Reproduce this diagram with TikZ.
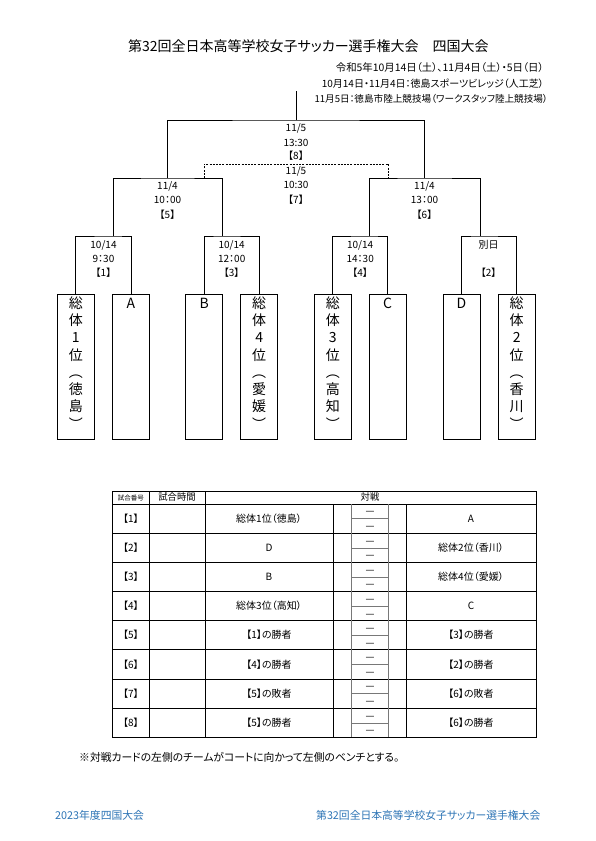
\documentclass[tikz,border=0pt]{standalone}
\usepackage{fontspec}
\usetikzlibrary{calc}
\setmainfont{Noto Sans CJK JP}[RawFeature=+palt]
\newfontfamily\boxfont{Noto Sans CJK JP}
\definecolor{footblue}{RGB}{46,117,182}
\definecolor{thingray}{RGB}{120,120,120}
\newcommand\fsz[1]{\fontsize{#1}{#1}\selectfont}
\tikzset{
  br/.style={line width=0.8pt, black},
  teambox/.style={draw, line width=0.8pt, minimum width=37pt, minimum height=145pt, inner sep=0pt},
  bch/.style={font=\boxfont\fsz{14}, inner sep=0pt, text height=12pt, text depth=1.5pt},
  lbl/.style={font=\fsz{10}, inner sep=0pt, text height=8.4pt, text depth=1pt},
  tt/.style={font=\fsz{10}, inner sep=0pt, text height=8.4pt, text depth=1pt},
  hd/.style={inner sep=0pt, text height=6pt, text depth=0.8pt},
  grid/.style={line width=0.9pt, black},
  thin/.style={line width=0.4pt, thingray},
  foot/.style={font=\fsz{10.8}, text=footblue, inner sep=0pt, anchor=west},
}
\begin{document}
\begin{tikzpicture}[x=1pt, y=-1pt]
\useasboundingbox (0,0) rectangle (595,841);
\fill[white] (0,0) rectangle (595,841);

% title and dates
\node[font=\fsz{14}, inner sep=0pt, anchor=west] (title) at (128,46) {第32回全日本高等学校女子サッカー選手権大会　四国大会};
\node[font=\fsz{10.4}, inner sep=0pt, anchor=east] (date1) at (544,68) {令和5年10月14日（土）、11月4日（土）・5日（日）};
\node[font=\fsz{10}, inner sep=0pt, anchor=east] (date2) at (544,84) {10月14日・11月4日：徳島スポーツビレッジ（人工芝）};
\node[font=\fsz{9.6}, inner sep=0pt, anchor=east] (date3) at (548,99) {11月5日：徳島市陸上競技場（ワークスタッフ陸上競技場）};

% team boxes
\node[teambox] (t1) at (75.8,366.5) {};
\node[teambox] (tA) at (131,366.5) {};
\node[teambox] (tB) at (204.2,366.5) {};
\node[teambox] (t4) at (259.2,366.5) {};
\node[teambox] (t3) at (332.8,366.5) {};
\node[teambox] (tC) at (387.7,366.5) {};
\node[teambox] (tD) at (461.5,366.5) {};
\node[teambox] (t2) at (516.7,366.5) {};

\foreach \bx/\lst in {t1/{総,体,1,位,︵,徳,島,︶}, t4/{総,体,4,位,︵,愛,媛,︶}, t3/{総,体,3,位,︵,高,知,︶}, t2/{総,体,2,位,︵,香,川,︶}}{
  \foreach \ch [count=\i from 0] in \lst {
    \node[bch] (\bx-c\i) at ($(\bx.north)+(0,9.3+17.3*\i)$) {\ch};
  }
}
\node[bch] (tA-l) at ($(tA.north)+(0,10)$) {A};
\node[bch] (tB-l) at ($(tB.north)+(0,10)$) {B};
\node[bch] (tC-l) at ($(tC.north)+(0,10)$) {C};
\node[bch] (tD-l) at ($(tD.north)+(0,10)$) {D};

% bracket junctions
\coordinate (j1) at (113,236);
\coordinate (j3) at (222,236);
\coordinate (j4) at (369,236);
\coordinate (j2) at (480,236);
\coordinate (k5) at (167.5,178);
\coordinate (k6) at (424.5,178);
\coordinate (fin) at (296,120);
\coordinate (finTop) at (296,91);
\coordinate (d5) at (204.3,178);
\coordinate (d6) at (388.3,178);
\coordinate (dm) at (296,164);

\draw[br] (t1.north) |- (j1) -| (tA.north);
\draw[br] (tB.north) |- (j3) -| (t4.north);
\draw[br] (t3.north) |- (j4) -| (tC.north);
\draw[br] (tD.north) |- (j2) -| (t2.north);
\draw[br] (j1) |- (k5) -| (j3);
\draw[br] (j4) |- (k6) -| (j2);
\draw[br] (k5) |- (fin) -| (k6);
\draw[br] (fin) -- (finTop);
\draw[br, dashed, dash pattern=on 2pt off 1.2pt] (d5) |- (dm) -| (d6);

% bracket labels
\node[lbl] (m8a) at (296,127.3) {11/5};
\node[lbl] (m8b) at (296,142.3) {13:30};
\node[lbl] (m8c) at (296,156) {【8】};
\node[lbl] (m7a) at (296,170.7) {11/5};
\node[lbl] (m7b) at (296,185) {10:30};
\node[lbl] (m7c) at (296,200) {【7】};
\node[lbl] (m5a) at (167.5,185.7) {11/4};
\node[lbl] (m5b) at (167.5,200) {10：00};
\node[lbl] (m5c) at (167.5,214.3) {【5】};
\node[lbl] (m6a) at (424.5,185.7) {11/4};
\node[lbl] (m6b) at (424.5,200) {13：00};
\node[lbl] (m6c) at (424.5,214.3) {【6】};
\node[lbl] (m1a) at (103.5,244.3) {10/14};
\node[lbl] (m1b) at (103.5,258.3) {9：30};
\node[lbl] (m1c) at (103.5,272.5) {【1】};
\node[lbl] (m3a) at (231.7,244.3) {10/14};
\node[lbl] (m3b) at (231.7,258.3) {12：00};
\node[lbl] (m3c) at (231.7,272.5) {【3】};
\node[lbl] (m4a) at (360.2,244.3) {10/14};
\node[lbl] (m4b) at (360.2,258.3) {14：30};
\node[lbl] (m4c) at (360.2,272.5) {【4】};
\node[lbl] (m2a) at (488.7,244.3) {別日};
\node[lbl] (m2c) at (488.7,272.5) {【2】};

% table
\def\rh{29.16}
\draw[grid] (112.5,491) rectangle (536,737.3);
\draw[grid] (112.5,504) -- (536,504);
\foreach \k in {1,...,7}{
  \draw[grid] (112.5,504+\rh*\k) -- (536,504+\rh*\k);
}
\draw[grid] (149,491) -- (149,737.3);
\draw[grid] (205,491) -- (205,737.3);
\draw[grid] (333,504) -- (333,737.3);
\draw[grid] (406,504) -- (406,737.3);
\draw[thin] (351.5,504) -- (351.5,737.3);
\draw[thin] (388.5,504) -- (388.5,737.3);
\foreach \k in {0,...,7}{
  \draw[thin] (351.5,504+\rh*\k+\rh/2) -- (388.5,504+\rh*\k+\rh/2);
}

\node[hd, font=\fsz{6.5}] (hno) at (130.8,497.5) {試合番号};
\node[hd, font=\fsz{9.3}] (htime) at (177,497.5) {試合時間};
\node[hd, font=\fsz{9.3}] (hvs) at (370,497.5) {対戦};

\foreach \n/\l/\r [count=\k from 0] in {
  1/{総体1位（徳島）}/{A},
  2/{D}/{総体2位（香川）},
  3/{B}/{総体4位（愛媛）},
  4/{総体3位（高知）}/{C},
  5/{【1】の勝者}/{【3】の勝者},
  6/{【4】の勝者}/{【2】の勝者},
  7/{【5】の敗者}/{【6】の敗者},
  8/{【5】の勝者}/{【6】の勝者}}{
  \node[tt] (no\n) at (130.8,504+\rh*\k+\rh/2) {【\n】};
  \node[tt] (left\n) at (269,504+\rh*\k+\rh/2) {\l};
  \node[tt] (right\n) at (471,504+\rh*\k+\rh/2) {\r};
  \node[tt, font=\boxfont\fsz{10}] (sa\n) at (370,504+\rh*\k+\rh/4) {—};
  \node[tt, font=\boxfont\fsz{10}] (sb\n) at (370,504+\rh*\k+3*\rh/4) {—};
}

% note and footer
\node[font=\fsz{10.8}, inner sep=0pt, anchor=west] (note) at (79,757) {※対戦カードの左側のチームがコートに向かって左側のベンチとする。};
\node[foot] (footL) at (55,815) {2023年度四国大会};
\node[foot] (footR) at (316,815) {第32回全日本高等学校女子サッカー選手権大会};
\end{tikzpicture}
\end{document}
